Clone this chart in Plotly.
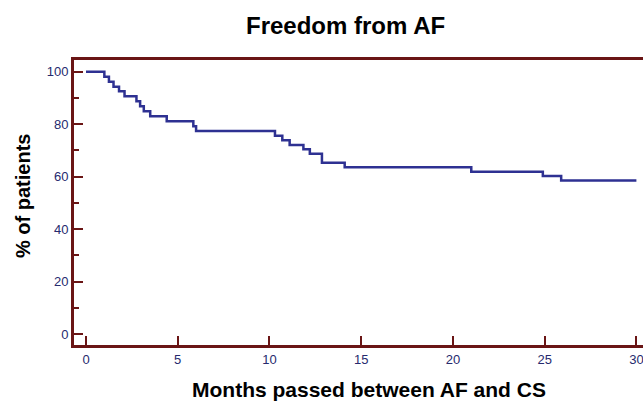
import plotly.graph_objects as go

# Kaplan-Meier style step data
months = [0, 1.0, 1.25, 1.5, 1.8, 2.1, 2.75, 2.95, 3.15, 3.5, 4.4, 5.85, 6.0,
          10.3, 10.7, 11.1, 11.85, 12.2, 12.86, 14.1, 21.0, 24.9, 25.9, 30.0]
pct_free = [100, 98.1, 96.2, 94.3, 92.5, 90.6, 88.7, 86.8, 84.9, 83.0, 81.1, 79.2, 77.4,
            75.6, 73.9, 72.1, 70.4, 68.7, 65.3, 63.6, 61.9, 60.2, 58.5, 58.5]

x_ticks = [0, 5, 10, 15, 20, 25, 30]
y_ticks = [0, 20, 40, 60, 80, 100]

FRAME = "#6a1515"
LABEL = "#262a6e"
LINE = "#2e3192"
FONT = "Liberation Sans, Arial, sans-serif"

fig = go.Figure()
fig.add_trace(go.Scatter(x=months, y=pct_free, mode="lines", line_shape="hv",
                         line=dict(color=LINE, width=2.5), hoverinfo="skip"))

W, H = 643, 401
L, R, T, B = 74, 0, 60, 56
PW, PH = W - L - R, H - T - B


def px_x(px):
    return (px - L) / PW


def px_y(py):
    return (H - B - py) / PH


fig.update_layout(
    width=W, height=H,
    margin=dict(l=L, r=R, t=T, b=B, pad=0),
    paper_bgcolor="white", plot_bgcolor="white",
    showlegend=False,
    font=dict(family=FONT, color=LABEL, size=13),
    xaxis=dict(range=[-0.654, 30.36], tickvals=x_ticks, ticktext=[str(v) for v in x_ticks],
               ticks="inside", ticklen=9, tickwidth=2, tickcolor=FRAME,
               showline=True, linecolor=FRAME, linewidth=3, mirror=True,
               showgrid=False, zeroline=False, ticklabeloverflow="allow",
               tickfont=dict(family=FONT, size=13, color=LABEL)),
    yaxis=dict(range=[-4.19, 104.46], tickvals=y_ticks, ticktext=[str(v) for v in y_ticks],
               ticks="inside", ticklen=9, tickwidth=2, tickcolor=FRAME,
               minor=dict(dtick=10, tick0=0, ticks="inside", ticklen=5, tickwidth=2, tickcolor=FRAME),
               showline=True, linecolor=FRAME, linewidth=3, mirror=False,
               showgrid=False, zeroline=False,
               tickfont=dict(family=FONT, size=13, color=LABEL)),
    annotations=[
        dict(text="<b>Freedom from AF</b>", xref="paper", yref="paper",
             x=px_x(345), y=px_y(25),
             xanchor="center", yanchor="middle", showarrow=False,
             font=dict(family=FONT, size=24, color="black")),
        dict(text="<b>Months passed between AF and CS</b>", xref="paper", yref="paper",
             x=px_x(369), y=px_y(389),
             xanchor="center", yanchor="middle", showarrow=False,
             font=dict(family=FONT, size=21, color="black")),
        dict(text="<b>% of patients</b>", xref="paper", yref="paper",
             x=px_x(23), y=px_y(196),
             xanchor="center", yanchor="middle", showarrow=False, textangle=-90,
             font=dict(family=FONT, size=20, color="black")),
    ],
)

fig.write_html(
    "out.html",
    config={"displayModeBar": False},
    post_script="document.body.style.margin='0';"
                "document.documentElement.style.overflow='hidden';",
)
